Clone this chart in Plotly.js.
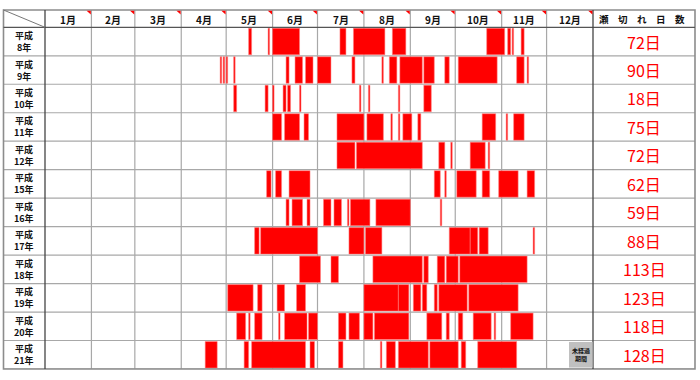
<!DOCTYPE html>
<html><head><meta charset="utf-8">
<script src="https://cdn.plot.ly/plotly-3.0.1.min.js"></script>
<style>html,body{margin:0;padding:0;background:#fff}</style>
</head><body><div id="chart" style="width:700px;height:380px"></div>
<script>
// ---- data ----
const months = ['1月','2月','3月','4月','5月','6月','7月','8月','9月','10月','11月','12月'];
const monthDays = [31,29,31,30,31,30,31,31,30,31,30,31];
const eraLabel = '平成';
const yearLabels = ['8年','9年','10年','11年','12年','15年','16年','17年','18年','19年','20年','21年'];
const totals = [72,90,18,75,72,62,59,88,113,123,118,128];
const headerRight = '瀬　切　れ　日　数';
const pendingLabel = ['未経過','期間'];
// intake-restriction periods per year: [start day-of-year (0-based), number of days]
const h08 = [[136,2],[149,1],[152,18],[197,4],[206,21],[232,9],[295,12],[309,2],[312,1],[318,2]];
const h09 = [[117,1],[119,1],[121,1],[126,1],[161,2],[167,5],[174,5],[182,9],[205,2],[225,1],[230,5],[237,15],[253,7],[267,3],[276,26],[315,5],[322,1]];
const h10 = [[126,2],[147,2],[152,1],[159,2],[162,2],[170,1],[210,1],[216,1],[236,1],[253,5]];
const h11 = [[152,6],[160,10],[173,3],[195,18],[215,11],[231,1],[236,1],[239,6],[249,2],[292,9],[308,1],[313,7]];
const h12 = [[195,12],[208,44],[263,4],[271,1],[284,10],[296,1]];
const h15 = [[148,3],[154,4],[163,14],[260,4],[267,1],[275,13],[292,5],[303,13],[322,5]];
const h16 = [[161,2],[165,7],[175,2],[186,5],[193,5],[202,1],[204,13],[221,23],[264,1]];
const h17 = [[140,3],[144,38],[203,10],[214,11],[270,14],[284,5],[290,6],[326,1]];
const h18 = [[170,14],[191,5],[219,33],[253,3],[262,5],[268,8],[277,45]];
const h19 = [[122,17],[142,3],[155,5],[168,6],[213,23],[236,7],[246,5],[252,3],[260,2],[263,19],[283,33]];
const h20 = [[128,6],[136,1],[140,5],[156,1],[160,15],[176,6],[196,5],[203,7],[213,6],[220,23],[255,10],[268,2],[276,3],[286,12],[300,1],[311,15]];
const h21 = [[107,8],[133,3],[138,36],[177,3],[196,3],[224,1],[228,6],[236,20],[257,19],[278,3],[289,26]];
const periods = [h08,h09,h10,h11,h12,h15,h16,h17,h18,h19,h20,h21];

// ---- build ----
const W = 700, H = 380;
const px = v => v / W;
const py = v => 1 - v / H;
const TOP = 10, HEAD = 27.3, BOT = 369, LEFT = 3.5, COLL = 45, COLR = 593, RIGHT = 695;
const ROWPX = (BOT - HEAD) / 12;

const monthStart = [0];
monthDays.forEach((d, i) => monthStart.push(monthStart[i] + d));
const yearLen = monthStart[12];

const ys = [], bases = [], lens = [];
periods.forEach((rows, i) => rows.forEach(([s, n]) => { ys.push(i); bases.push(s); lens.push(n); }));

const bars = {
  type: 'bar', orientation: 'h', y: ys, base: bases, x: lens, width: 0.93,
  marker: { color: '#ff0000', line: { color: 'rgba(255,130,130,0.9)', width: 0.6 } },
  hoverinfo: 'skip'
};

const shapes = [];
for (let k = 0; k < 12; k++) {
  shapes.push({ type: 'line', xref: 'paper', yref: 'y', x0: px(LEFT), x1: px(RIGHT), y0: k + 0.5, y1: k + 0.5,
    line: { color: '#a8a8a8', width: 1.2 }, layer: 'below' });
}
for (let m = 1; m < 12; m++) {
  shapes.push({ type: 'line', xref: 'x', yref: 'paper', x0: monthStart[m], x1: monthStart[m], y0: py(TOP), y1: py(BOT),
    line: { color: '#a8a8a8', width: 1.2 }, layer: 'below' });
}
shapes.push({ type: 'rect', xref: 'paper', yref: 'paper', x0: px(LEFT), x1: px(RIGHT), y0: py(BOT), y1: py(TOP),
  line: { color: '#8c8c8c', width: 1.6 } });
shapes.push({ type: 'line', xref: 'paper', yref: 'paper', x0: px(LEFT), x1: px(RIGHT), y0: py(HEAD), y1: py(HEAD),
  line: { color: '#555', width: 1.3 } });
shapes.push({ type: 'line', xref: 'paper', yref: 'paper', x0: px(COLL), x1: px(COLL), y0: py(TOP), y1: py(BOT),
  line: { color: '#444', width: 1.3 } });
shapes.push({ type: 'line', xref: 'paper', yref: 'paper', x0: px(COLR), x1: px(COLR), y0: py(TOP), y1: py(BOT),
  line: { color: '#444', width: 1.3 } });
shapes.push({ type: 'line', xref: 'paper', yref: 'paper', x0: px(LEFT), x1: px(COLL), y0: py(TOP), y1: py(HEAD),
  line: { color: '#777', width: 1 } });
for (let m = 1; m <= 12; m++) {
  const xe = monthStart[m] - 0.4, xs = xe - 2.8;
  shapes.push({ type: 'path', xref: 'x', yref: 'paper',
    path: `M ${xs},${py(TOP + 0.8)} L ${xe},${py(TOP + 0.8)} L ${xe},${py(TOP + 4.5)} Z`,
    fillcolor: '#ff0000', line: { width: 0 } });
}
shapes.push({ type: 'rect', xref: 'paper', yref: 'y', x0: px(569), x1: px(592.5), y0: 11 - 0.45, y1: 11 + 0.45,
  fillcolor: '#c0c0c0', line: { width: 0 } });

const FONT = '"Noto Sans CJK JP", "Noto Sans", sans-serif';
const A = { showarrow: false, xanchor: 'center', yanchor: 'middle' };
const annotations = [];
months.forEach((t, i) => annotations.push(Object.assign({
  xref: 'x', yref: 'paper', x: (monthStart[i] + monthStart[i + 1]) / 2, y: py(19), text: '<b>' + t + '</b>',
  font: { family: FONT, size: 10, color: '#111' } }, A)));
annotations.push(Object.assign({ xref: 'paper', yref: 'paper', x: px(642), y: py(19), text: '<b>' + headerRight + '</b>',
  font: { family: FONT, size: 9.5, color: '#111' } }, A));
const off = 6 / ROWPX;
yearLabels.forEach((t, i) => {
  annotations.push(Object.assign({ xref: 'paper', yref: 'y', x: px(24), y: i - off, text: '<b>' + eraLabel + '</b>',
    font: { family: FONT, size: 9, color: '#111' } }, A));
  annotations.push(Object.assign({ xref: 'paper', yref: 'y', x: px(24), y: i + off, text: '<b>' + t + '</b>',
    font: { family: FONT, size: 9, color: '#111' } }, A));
});
totals.forEach((v, i) => annotations.push(Object.assign({
  xref: 'paper', yref: 'y', x: px(644), y: i, text: v + '日',
  font: { family: FONT, size: 16, color: '#ff0000' } }, A)));
const off2 = 4 / ROWPX;
pendingLabel.forEach((t, j) => annotations.push(Object.assign({ xref: 'paper', yref: 'y', x: px(581),
  y: 11 + (j === 0 ? -off2 : off2), text: '<b>' + t + '</b>',
  font: { family: FONT, size: 6, color: '#111' } }, A)));

const layout = {
  width: W, height: H, margin: { l: 0, r: 0, t: 0, b: 0, pad: 0 },
  paper_bgcolor: '#fff', plot_bgcolor: '#fff', showlegend: false,
  xaxis: { domain: [px(COLL), px(COLR)], range: [0, yearLen], showgrid: false, zeroline: false,
    showticklabels: false, ticks: '', fixedrange: true },
  yaxis: { domain: [py(BOT), py(HEAD)], range: [11.5, -0.5], showgrid: false, zeroline: false,
    showticklabels: false, ticks: '', fixedrange: true },
  shapes, annotations
};
Plotly.newPlot('chart', [bars], layout, { staticPlot: true, displayModeBar: false });
</script></body></html>
